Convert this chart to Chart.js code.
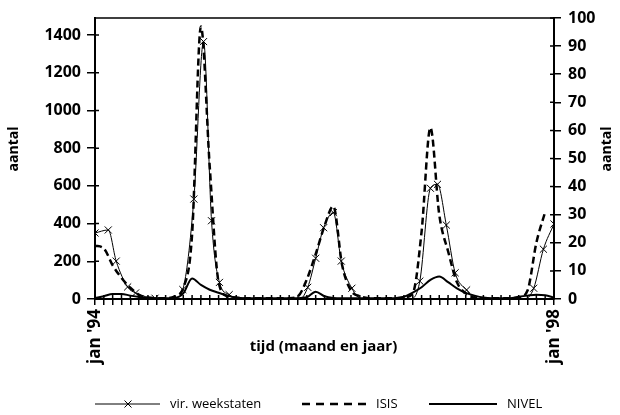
<!DOCTYPE html>
<html>
<head>
<meta charset="utf-8">
<script src="https://cdn.jsdelivr.net/npm/chart.js@4.4.0/dist/chart.umd.min.js"></script>
<style>
    html, body { margin: 0; padding: 0; background: #fff; }
</style>
</head>
<body>
<canvas id="griep" width="620" height="415"></canvas>
<script>
    "use strict";

    // tijdas: perioden van 4 weken, jan '94 = 0 ... jan '98 = 52
    var periodLabels = { 0: "jan '94", 52: "jan '98" };
    var leftTicks = [0, 200, 400, 600, 800, 1000, 1200, 1400];
    var rightTicks = [0, 10, 20, 30, 40, 50, 60, 70, 80, 90, 100];

    // vir. weekstaten (linker as, aantal); de nullen in de zomer hebben geen kruisje
    var weekstatenX = [0, 1.5, 2.4, 3.7, 4.6, 6.8, 9.0, 9.95, 11.2, 12.3, 13.2, 14.1, 15.2, 16.3,
        23.2, 24.1, 25.0, 25.9, 27.0, 27.9, 29.1, 30.2,
        35.7, 36.8, 38.0, 38.8, 39.8, 40.8, 42.1, 43.2,
        48.7, 49.7, 50.8, 52];
    var weekstatenY = [350, 366, 201, 64, 32, 4, 0, 50, 530, 1365, 415, 88, 23, 0,
        0, 62, 216, 378, 458, 201, 57, 0,
        0, 95, 587, 608, 392, 139, 48, 0,
        0, 57, 264, 398];

    // ISIS (rechter as, aantal), periode 0..51
    var isisY = [19, 18, 12, 7.5, 4, 1.5, 0.5, 0.3, 0.3, 0.8, 4, 23, 97, 47, 6, 1, 0.5,
        0.3, 0.3, 0.3, 0.3, 0.3, 0.3, 1, 7, 16, 26, 33, 12, 3, 1, 0.3, 0.3, 0.3, 0.3,
        0.5, 2, 24, 61, 30, 17, 6, 2, 0.5, 0.3, 0.3, 0.3, 0.3, 0.5, 3, 20, 31];

    // NIVEL (rechter as, aantal), periode 0..52
    var nivelY = [0.3, 1, 1.8, 1.8, 1.2, 0.7, 0.4, 0.3, 0.3, 0.4, 2, 7.3, 5, 3.3, 2.2, 1.2, 0.5,
        0.3, 0.3, 0.3, 0.3, 0.3, 0.3, 0.3, 0.6, 2.6, 1, 0.4, 0.3, 0.3, 0.3, 0.3, 0.3, 0.3, 0.3,
        0.8, 2.3, 4.2, 6.8, 8, 6, 3.8, 2.2, 1.2, 0.5, 0.3, 0.3, 0.3, 0.8, 1.2, 1.5, 1.3, 0.5];

    var seriesNames = ["vir. weekstaten", "ISIS", "NIVEL"];

    function toPoints(xs, ys) {
        return ys.map(function (y, i) { return { x: xs ? xs[i] : i, y: y }; });
    }

    function fixedTicks(values) {
        return function (scale) {
            scale.ticks = values.map(function (v) { return { value: v }; });
        };
    }

    var tickFont = { family: "Open Sans", size: 16, weight: "bold" };

    // kader, ticks die door de as heen steken, titels en legenda
    var decorations = {
        id: "decorations",
        afterDraw: function (chart) {
            var ctx = chart.ctx;
            var a = chart.chartArea;
            ctx.save();
            ctx.strokeStyle = "#000";
            ctx.lineWidth = 1.5;
            ctx.strokeRect(a.left, a.top, a.right - a.left, a.bottom - a.top);

            // binnenste deel van de tickstreepjes
            ctx.beginPath();
            chart.scales.x.ticks.forEach(function (t) {
                var px = chart.scales.x.getPixelForValue(t.value);
                ctx.moveTo(px, a.bottom);
                ctx.lineTo(px, a.bottom - 4);
            });
            chart.scales.y.ticks.forEach(function (t) {
                var py = chart.scales.y.getPixelForValue(t.value);
                ctx.moveTo(a.left, py);
                ctx.lineTo(a.left + 4, py);
            });
            chart.scales.y2.ticks.forEach(function (t) {
                var py = chart.scales.y2.getPixelForValue(t.value);
                ctx.moveTo(a.right, py);
                ctx.lineTo(a.right - 4, py);
            });
            ctx.stroke();

            ctx.fillStyle = "#000";
            ctx.font = "bold 15px 'Open Sans'";
            ctx.textAlign = "center";
            ctx.textBaseline = "middle";
            ctx.fillText("tijd (maand en jaar)", (a.left + a.right) / 2 - 1, 347);

            // astitels, van onder naar boven
            ctx.font = "bold 14px 'Open Sans'";
            [14, 607].forEach(function (tx) {
                ctx.save();
                ctx.translate(tx, 149);
                ctx.rotate(-Math.PI / 2);
                ctx.fillText("aantal", 0, 0);
                ctx.restore();
            });

            // legenda
            var legendX = [95, 302, 429];
            var sampleW = [65, 64, 68];
            var legendY = 404;
            ctx.font = "13px 'Open Sans'";
            ctx.textAlign = "left";
            chart.data.datasets.forEach(function (ds, i) {
                var x0 = legendX[i];
                ctx.beginPath();
                ctx.lineWidth = ds.borderWidth;
                ctx.setLineDash(ds.borderDash ? [8, 6] : []);
                ctx.moveTo(x0, legendY);
                ctx.lineTo(x0 + sampleW[i], legendY);
                ctx.stroke();
                ctx.setLineDash([]);
                if (ds.pointStyle === "crossRot") {
                    var r = 3.5;
                    var cx = x0 + 33;
                    ctx.lineWidth = 1;
                    ctx.beginPath();
                    ctx.moveTo(cx - r, legendY - r);
                    ctx.lineTo(cx + r, legendY + r);
                    ctx.moveTo(cx - r, legendY + r);
                    ctx.lineTo(cx + r, legendY - r);
                    ctx.stroke();
                }
                ctx.fillText(ds.label, x0 + sampleW[i] + 10, legendY);
            });
            ctx.restore();
        }
    };

    var ctx = document.getElementById("griep").getContext("2d");
    var griepChart = new Chart(ctx, {
        type: "line",
        data: {
            datasets: [{
                label: seriesNames[0],
                data: toPoints(weekstatenX, weekstatenY),
                yAxisID: "y",
                borderColor: "#000",
                borderWidth: 1,
                pointStyle: "crossRot",
                pointRadius: function (c) { return c.raw && c.raw.y === 0 ? 0 : 5; },
                pointBorderWidth: 1,
                pointBorderColor: "#000",
                cubicInterpolationMode: "monotone"
            },
            {
                label: seriesNames[1],
                data: toPoints(null, isisY),
                yAxisID: "y2",
                borderColor: "#000",
                borderWidth: 2.5,
                borderDash: [7, 4],
                pointRadius: 0,
                cubicInterpolationMode: "monotone"
            },
            {
                label: seriesNames[2],
                data: toPoints(null, nivelY),
                yAxisID: "y2",
                borderColor: "#000",
                borderWidth: 2,
                pointRadius: 0,
                cubicInterpolationMode: "monotone"
            }]
        },
        options: {
            responsive: false,
            animation: false,
            layout: { padding: { top: 18, left: 0, right: 0, bottom: 0 } },
            plugins: {
                legend: { display: false },
                tooltip: { enabled: false }
            },
            scales: {
                x: {
                    type: "linear",
                    min: 0,
                    max: 52,
                    border: { color: "#000", width: 2 },
                    grid: { drawOnChartArea: false, color: "#000", lineWidth: 1.5, tickLength: 6 },
                    ticks: {
                        stepSize: 1,
                        autoSkip: false,
                        maxRotation: 90,
                        minRotation: 90,
                        padding: 4,
                        color: "#000",
                        font: { family: "Open Sans", size: 17, weight: "bold" },
                        callback: function (v) { return periodLabels[v] || ""; }
                    },
                    afterFit: function (scale) { scale.height = 116; }
                },
                y: {
                    position: "left",
                    min: 0,
                    max: 1490,
                    border: { color: "#000", width: 2 },
                    grid: { drawOnChartArea: false, color: "#000", lineWidth: 1.5, tickLength: 8 },
                    ticks: {
                        padding: 6, autoSkip: false, color: "#000", font: tickFont,
                        callback: function (v) { return String(v); }
                    },
                    afterBuildTicks: fixedTicks(leftTicks),
                    afterFit: function (scale) { scale.width = 95; }
                },
                y2: {
                    position: "right",
                    min: 0,
                    max: 100,
                    border: { color: "#000", width: 2 },
                    grid: { drawOnChartArea: false, color: "#000", lineWidth: 1.5, tickLength: 7 },
                    ticks: {
                        padding: 7, autoSkip: false, color: "#000", font: tickFont,
                        callback: function (v) { return String(v); }
                    },
                    afterBuildTicks: fixedTicks(rightTicks),
                    afterFit: function (scale) { scale.width = 66; }
                }
            }
        },
        plugins: [decorations]
    });
</script>
</body>
</html>
